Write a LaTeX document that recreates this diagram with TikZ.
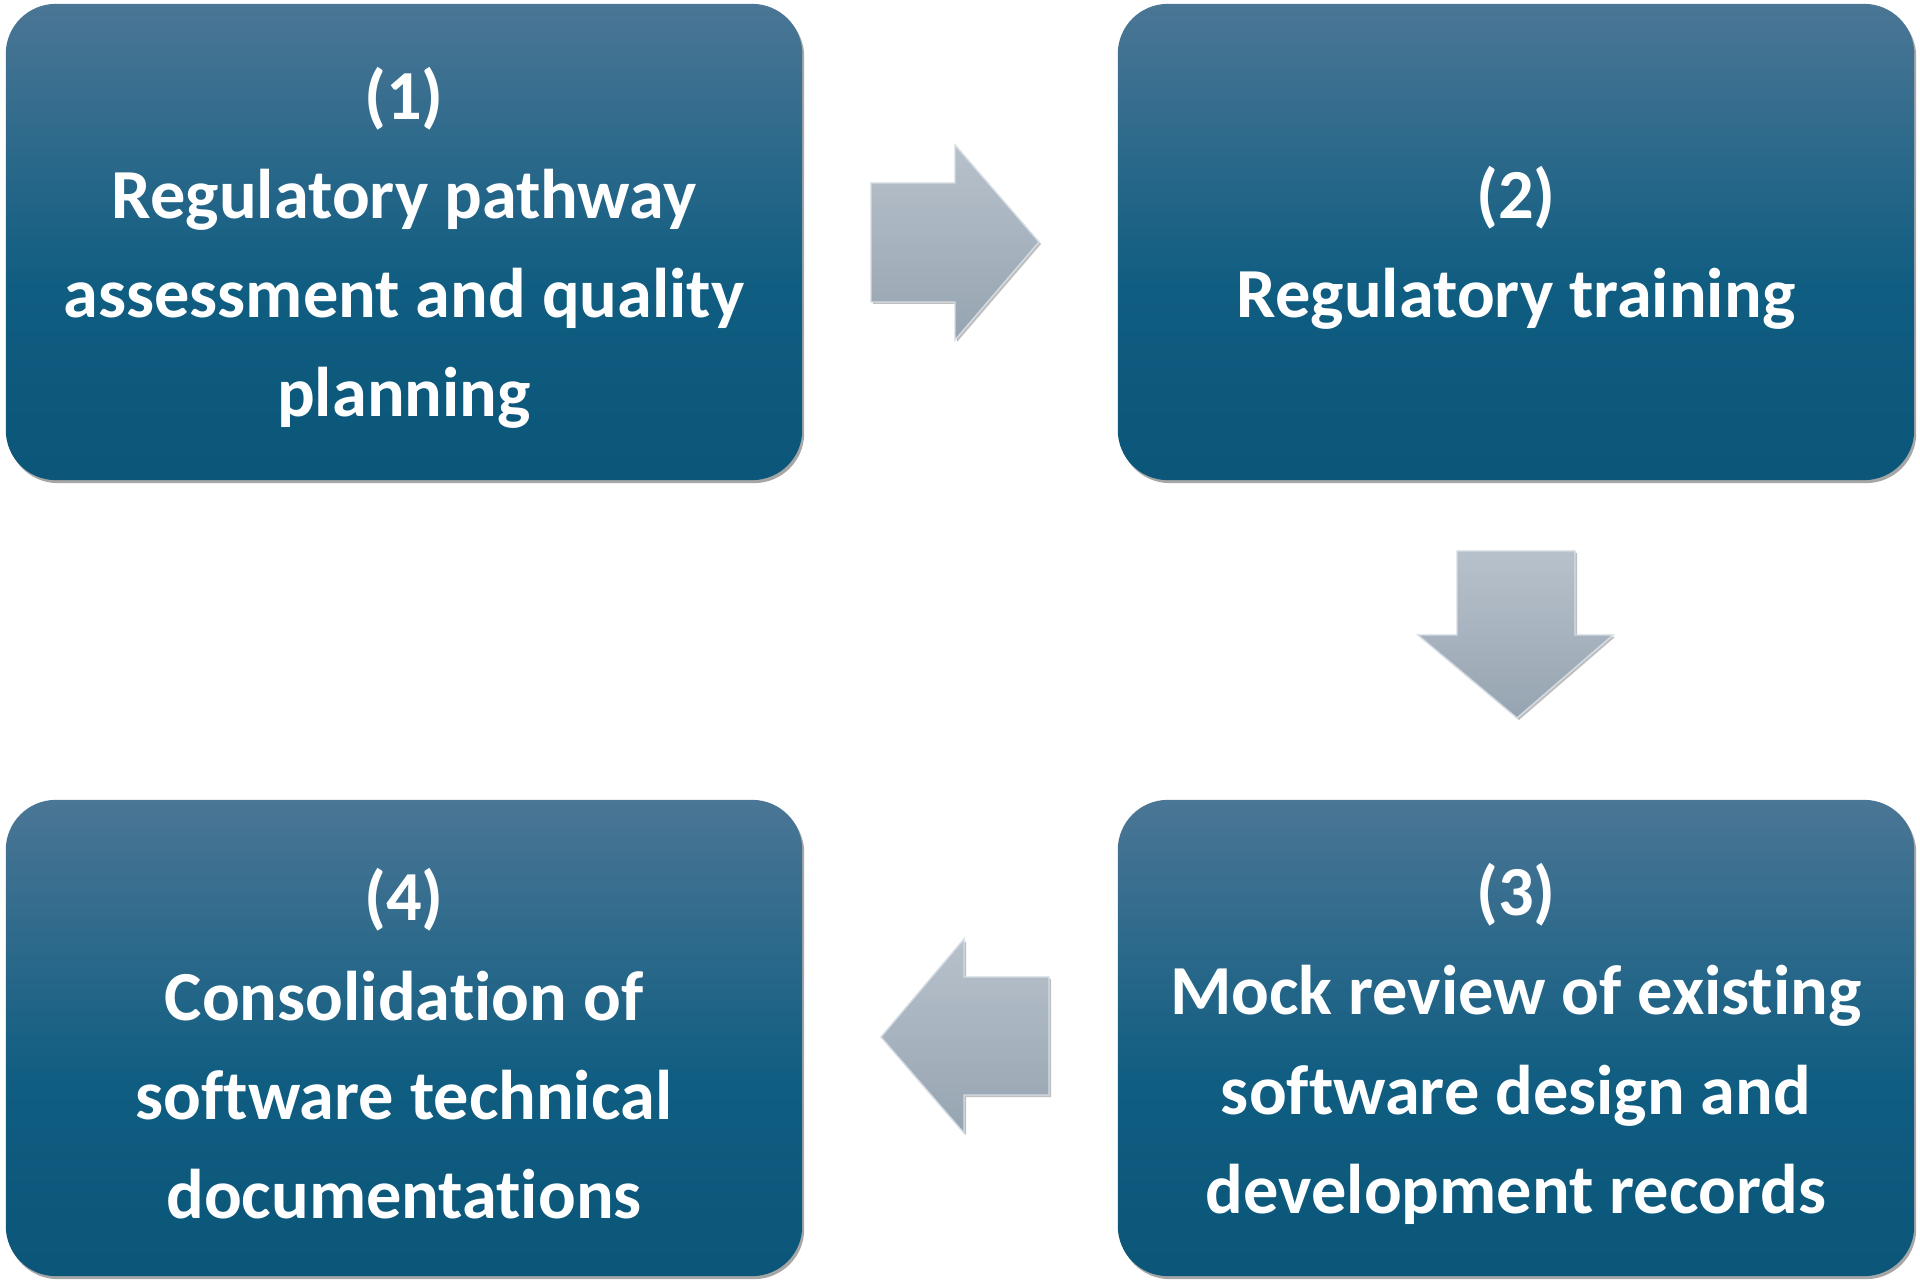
\documentclass[tikz,border=0pt]{standalone}
\usepackage{fontspec}
\setmainfont{Carlito}[RawFeature={-liga;-dlig}]
\usetikzlibrary{shadows}

\definecolor{boxtop}{HTML}{4B7695}
\definecolor{boxmid}{HTML}{0F5D81}
\definecolor{boxbot}{HTML}{0B5679}
\definecolor{arrowtop}{HTML}{B7C1CB}
\definecolor{arrowbot}{HTML}{96A4B1}
\definecolor{arrowedge}{HTML}{D5DCE3}

% dark blue fading to lighter blue at the top
\pgfdeclareverticalshading{boxshade}{100bp}{color(0bp)=(boxbot); color(25bp)=(boxbot);
  color(45bp)=(boxmid); color(75bp)=(boxtop); color(100bp)=(boxtop)}

% taller first line, moves the text a little down
\newcommand{\steplift}{\rule{0pt}{18.2pt}}

\begin{document}
\begin{tikzpicture}[x=0.01cm, y=0.01cm,
  stepbox/.style={shading=boxshade, rounded corners=0.5cm,
    minimum width=7.96cm, minimum height=4.76cm, align=center,
    text=white, font=\fontsize{20}{28.2}\selectfont\bfseries,
    drop shadow={shadow xshift=0.02cm, shadow yshift=-0.03cm, opacity=0.35, fill=black}},
  flowarrow/.style={top color=arrowtop, bottom color=arrowbot, draw=arrowedge, line width=0.4pt,
    drop shadow={shadow xshift=0.02cm, shadow yshift=-0.02cm, opacity=0.25, fill=black}}]
  \useasboundingbox (0,0) rectangle (1920,1284);

  % Four steps
  \node[stepbox] (box1) at (404,1042) {\steplift(1)\\Regulatory pathway\\assessment and quality\\planning};
  \node[stepbox] (box2) at (1516,1042) {\steplift(2)\\Regulatory training};
  \node[stepbox] (box3) at (1516,246) {\steplift(3)\\Mock review of existing\\software design and\\development records};
  \node[stepbox] (box4) at (404,246) {\steplift(4)\\Consolidation of\\software technical\\documentations};

  % Block arrow (1) -> (2)
  \draw[flowarrow] (871,1101) -- (955,1101) -- (955,1139) -- (1039,1042)
    -- (955,944) -- (955,982) -- (871,982) -- cycle;

  % Block arrow (2) -> (3)
  \draw[flowarrow] (1457,733) -- (1575,733) -- (1575,649) -- (1613,649)
    -- (1517,566) -- (1418,649) -- (1457,649) -- cycle;

  % Block arrow (3) -> (4)
  \draw[flowarrow] (1049,307) -- (964,307) -- (964,345) -- (881,247)
    -- (964,151) -- (964,189) -- (1049,189) -- cycle;

\end{tikzpicture}
\end{document}
